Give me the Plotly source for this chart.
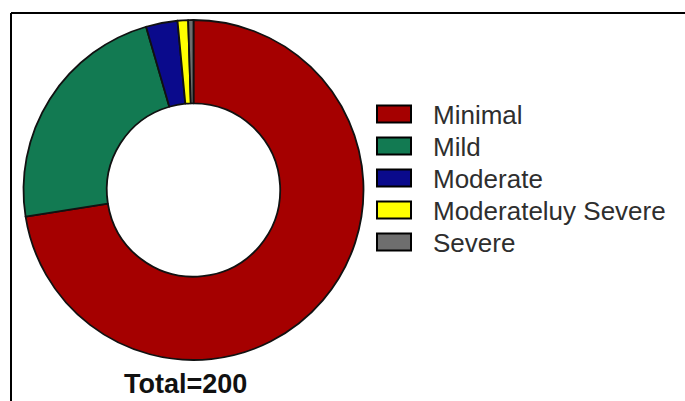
import plotly.graph_objects as go

W, H = 685, 401

categories = ["Minimal", "Mild", "Moderate", "Moderateluy Severe", "Severe"]
counts = [145, 46, 6, 2, 1]
colors = ["#A50000", "#127A52", "#0A0A8C", "#FFFF00", "#6E6E6E"]
total_label = "Total=200"

def px(x):
    return x / W

def py(y):
    return 1 - y / H

cx, cy, r = 193.5, 190, 170

fig = go.Figure(go.Pie(
    labels=categories,
    values=counts,
    hole=0.51,
    sort=False,
    direction="clockwise",
    rotation=0,
    textinfo="none",
    hoverinfo="label+value",
    marker=dict(colors=colors, line=dict(color="#111111", width=1.8)),
    domain=dict(x=[px(cx - r), px(cx + r)], y=[py(cy + r), py(cy - r)]),
    showlegend=False,
))

shapes = []
annotations = []
# frame lines (top and left)
shapes.append(dict(type="line", xref="paper", yref="paper",
                   x0=px(11), x1=1, y0=py(13), y1=py(13),
                   line=dict(color="black", width=2)))
shapes.append(dict(type="line", xref="paper", yref="paper",
                   x0=px(11), x1=px(11), y0=py(13), y1=0,
                   line=dict(color="black", width=2)))

# custom legend
row0, step = 114, 32
for i, (lab, col) in enumerate(zip(categories, colors)):
    yc = row0 + i * step
    shapes.append(dict(type="rect", xref="paper", yref="paper",
                       x0=px(377), x1=px(411), y0=py(yc + 8.5), y1=py(yc - 8.5),
                       fillcolor=col, line=dict(color="black", width=2)))
    annotations.append(dict(text=lab, xref="paper", yref="paper",
                            x=px(431), y=py(yc + 1), xanchor="left", yanchor="middle",
                            showarrow=False,
                            font=dict(family="Liberation Sans, Arial", size=26, color="#2e2e2e")))

annotations.append(dict(text="<b>" + total_label + "</b>", xref="paper", yref="paper",
                        x=px(185), y=py(384), xanchor="center", yanchor="middle",
                        showarrow=False,
                        font=dict(family="Liberation Sans, Arial", size=27, color="#111111")))

fig.update_layout(
    width=W, height=H,
    margin=dict(l=0, r=0, t=0, b=0),
    paper_bgcolor="white",
    plot_bgcolor="white",
    shapes=shapes,
    annotations=annotations,
)

fig.write_html("out.html")
